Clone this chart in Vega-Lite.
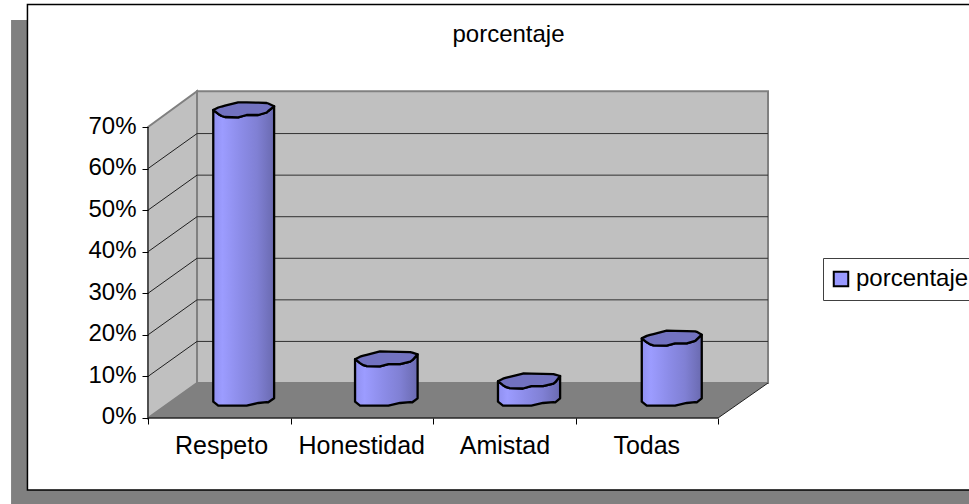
{"$schema":"https://vega.github.io/schema/vega-lite/v6.json","width":969,"height":504,"padding":0,"autosize":"none","background":"white",
"title":{"text":"porcentaje","font":"Liberation Sans","fontSize":24,"fontWeight":"normal","color":"black","anchor":"middle","dx":24,"offset":-47},
"config":{"view":{"stroke":null},"font":"Liberation Sans"},
"datasets":{
"body":[
{"b":"Respeto","x":0.458,"y":74.09,"y2":3.92},{"b":"Respeto","x":0.493,"y":73.14,"y2":2.96},{"b":"Respeto","x":0.517,"y":72.65,"y2":2.96},{"b":"Respeto","x":0.54,"y":72.41,"y2":2.96},{"b":"Respeto","x":0.633,"y":72.34,"y2":2.96},{"b":"Respeto","x":0.692,"y":72.89,"y2":2.96},{"b":"Respeto","x":0.774,"y":72.89,"y2":3.61},{"b":"Respeto","x":0.833,"y":73.49,"y2":3.8},{"b":"Respeto","x":0.844,"y":73.85,"y2":3.78},{"b":"Respeto","x":0.885,"y":74.98,"y2":4.74},
{"b":"Honestidad","x":1.453,"y":14.15,"y2":3.92},{"b":"Honestidad","x":1.488,"y":13.2,"y2":2.96},{"b":"Honestidad","x":1.512,"y":12.71,"y2":2.96},{"b":"Honestidad","x":1.535,"y":12.47,"y2":2.96},{"b":"Honestidad","x":1.628,"y":12.4,"y2":2.96},{"b":"Honestidad","x":1.687,"y":12.95,"y2":2.96},{"b":"Honestidad","x":1.769,"y":12.95,"y2":3.61},{"b":"Honestidad","x":1.84,"y":13.55,"y2":3.8},{"b":"Honestidad","x":1.855,"y":13.91,"y2":3.78},{"b":"Honestidad","x":1.892,"y":15.3,"y2":4.74},
{"b":"Amistad","x":2.456,"y":8.85,"y2":3.92},{"b":"Amistad","x":2.491,"y":7.9,"y2":2.96},{"b":"Amistad","x":2.515,"y":7.41,"y2":2.96},{"b":"Amistad","x":2.538,"y":7.17,"y2":2.96},{"b":"Amistad","x":2.631,"y":7.1,"y2":2.96},{"b":"Amistad","x":2.69,"y":7.65,"y2":2.96},{"b":"Amistad","x":2.772,"y":7.65,"y2":3.61},{"b":"Amistad","x":2.845,"y":8.25,"y2":3.8},{"b":"Amistad","x":2.858,"y":8.61,"y2":3.78},{"b":"Amistad","x":2.892,"y":10.1,"y2":4.74},
{"b":"Todas","x":3.465,"y":19.15,"y2":3.92},{"b":"Todas","x":3.5,"y":18.2,"y2":2.96},{"b":"Todas","x":3.524,"y":17.71,"y2":2.96},{"b":"Todas","x":3.547,"y":17.47,"y2":2.96},{"b":"Todas","x":3.64,"y":17.4,"y2":2.96},{"b":"Todas","x":3.699,"y":17.95,"y2":2.96},{"b":"Todas","x":3.781,"y":17.95,"y2":3.61},{"b":"Todas","x":3.84,"y":18.55,"y2":3.8},{"b":"Todas","x":3.851,"y":18.91,"y2":3.78},{"b":"Todas","x":3.886,"y":20.04,"y2":4.74}
],
"tops":[
{"b":"Respeto","x":0.458,"y":74.09,"y2":74.09},{"b":"Respeto","x":0.493,"y":74.69,"y2":73.14},{"b":"Respeto","x":0.517,"y":74.93,"y2":72.65},{"b":"Respeto","x":0.54,"y":75.13,"y2":72.41},{"b":"Respeto","x":0.633,"y":75.94,"y2":72.34},{"b":"Respeto","x":0.692,"y":75.92,"y2":72.89},{"b":"Respeto","x":0.774,"y":75.85,"y2":72.89},{"b":"Respeto","x":0.833,"y":75.78,"y2":73.49},{"b":"Respeto","x":0.844,"y":75.66,"y2":73.85},{"b":"Respeto","x":0.885,"y":74.98,"y2":74.98},
{"b":"Honestidad","x":1.453,"y":14.15,"y2":14.15},{"b":"Honestidad","x":1.488,"y":14.75,"y2":13.2},{"b":"Honestidad","x":1.512,"y":14.99,"y2":12.71},{"b":"Honestidad","x":1.535,"y":15.19,"y2":12.47},{"b":"Honestidad","x":1.628,"y":16.0,"y2":12.4},{"b":"Honestidad","x":1.687,"y":15.98,"y2":12.95},{"b":"Honestidad","x":1.769,"y":15.91,"y2":12.95},{"b":"Honestidad","x":1.84,"y":15.84,"y2":13.55},{"b":"Honestidad","x":1.855,"y":15.72,"y2":13.91},{"b":"Honestidad","x":1.892,"y":15.3,"y2":15.3},
{"b":"Amistad","x":2.456,"y":8.85,"y2":8.85},{"b":"Amistad","x":2.491,"y":9.45,"y2":7.9},{"b":"Amistad","x":2.515,"y":9.69,"y2":7.41},{"b":"Amistad","x":2.538,"y":9.89,"y2":7.17},{"b":"Amistad","x":2.631,"y":10.7,"y2":7.1},{"b":"Amistad","x":2.69,"y":10.68,"y2":7.65},{"b":"Amistad","x":2.772,"y":10.61,"y2":7.65},{"b":"Amistad","x":2.845,"y":10.54,"y2":8.25},{"b":"Amistad","x":2.858,"y":10.42,"y2":8.61},{"b":"Amistad","x":2.892,"y":10.1,"y2":10.1},
{"b":"Todas","x":3.465,"y":19.15,"y2":19.15},{"b":"Todas","x":3.5,"y":19.75,"y2":18.2},{"b":"Todas","x":3.524,"y":19.99,"y2":17.71},{"b":"Todas","x":3.547,"y":20.19,"y2":17.47},{"b":"Todas","x":3.64,"y":21.0,"y2":17.4},{"b":"Todas","x":3.699,"y":20.98,"y2":17.95},{"b":"Todas","x":3.781,"y":20.91,"y2":17.95},{"b":"Todas","x":3.84,"y":20.84,"y2":18.55},{"b":"Todas","x":3.851,"y":20.72,"y2":18.91},{"b":"Todas","x":3.886,"y":20.04,"y2":20.04}
]},
"encoding":{
"x":{"field":"x","type":"quantitative","title":null,"scale":{"domain":[-1.0386,5.7614],"nice":false,"zero":false},"axis":{"values":[0,1,2,3,4],"labels":false,"domain":false,"grid":false,"tickSize":6,"tickColor":"black","offset":-86,"zindex":1,"title":null}},
"y":{"field":"y","type":"quantitative","title":null,"scale":{"domain":[-20.688,100.553],"nice":false,"zero":false},"axis":{"values":[0,10,20,30,40,50,60,70],"labelExpr":"datum.value+'%'","labelFont":"Liberation Sans","labelFontSize":24,"labelColor":"black","labelPadding":6,"labelOffset":-1,"domain":false,"grid":false,"tickSize":6,"tickColor":"black","offset":-148,"zindex":1,"title":null}}
},
"layer":[
{"data":{"values":[{"x":-0.961,"x2":6,"y":95.74,"y2":-20.69}]},"mark":{"type":"rect","fill":"#808080"},"encoding":{"x2":{"field":"x2"},"y2":{"field":"y2"}}},
{"data":{"values":[{"x":-0.846,"x2":6,"y":99.47,"y2":-17.32}]},"mark":{"type":"rect","fill":"white","stroke":"black","strokeWidth":1.5},"encoding":{"x2":{"field":"x2"},"y2":{"field":"y2"}}},
{"data":{"values":[{"x":0,"y":70,"y2":0},{"x":0.344,"y":78.6,"y2":8.42}]},"mark":{"type":"area","fill":"#c0c0c0","stroke":"#808080","strokeWidth":2},"encoding":{"y2":{"field":"y2"}}},
{"data":{"values":[{"x":0.344,"x2":4.351,"y":78.6,"y2":8.42}]},"mark":{"type":"rect","fill":"#c0c0c0","stroke":"#808080","strokeWidth":2},"encoding":{"x2":{"field":"x2"},"y2":{"field":"y2"}}},
{"data":{"values":[{"x":0,"y":0,"y2":0},{"x":0.344,"y":8.42,"y2":0},{"x":4,"y":8.42,"y2":0},{"x":4.351,"y":8.42,"y2":8.42}]},"mark":{"type":"area","fill":"#808080"},"encoding":{"y2":{"field":"y2"}}},
{"data":{"values":[{"x":0.344,"x2":4.351,"y":18.42},{"x":0.344,"x2":4.351,"y":28.42},{"x":0.344,"x2":4.351,"y":38.42},{"x":0.344,"x2":4.351,"y":48.42},{"x":0.344,"x2":4.351,"y":58.42},{"x":0.344,"x2":4.351,"y":68.42},{"x":0,"x2":4,"y":0}]},"mark":{"type":"rule","color":"#303030","strokeWidth":1},"encoding":{"x2":{"field":"x2"}}},
{"data":{"values":[{"x":0,"y":70,"y2":0}]},"mark":{"type":"rule","color":"#202020","strokeWidth":1},"encoding":{"y2":{"field":"y2"}}},
{"data":{"values":[{"g":10,"x":0,"y":10},{"g":10,"x":0.344,"y":18.42},{"g":20,"x":0,"y":20},{"g":20,"x":0.344,"y":28.42},{"g":30,"x":0,"y":30},{"g":30,"x":0.344,"y":38.42},{"g":40,"x":0,"y":40},{"g":40,"x":0.344,"y":48.42},{"g":50,"x":0,"y":50},{"g":50,"x":0.344,"y":58.42},{"g":60,"x":0,"y":60},{"g":60,"x":0.344,"y":68.42}]},"mark":{"type":"line","color":"#202020","strokeWidth":1},"encoding":{"detail":{"field":"g"}}},
{"data":{"values":[{"x":0,"y":0},{"x":4,"y":0},{"x":4.351,"y":8.42}]},"mark":{"type":"line","color":"#202020","strokeWidth":1}},
{"data":{"name":"body"},"mark":{"type":"area","stroke":"black","strokeWidth":2.3,"strokeJoin":"round","fill":{"gradient":"linear","x1":0,"y1":0,"x2":1,"y2":0,"stops":[{"offset":0,"color":"#9090f0"},{"offset":0.15,"color":"#9c9cff"},{"offset":0.45,"color":"#8c8ce8"},{"offset":0.72,"color":"#8080d4"},{"offset":1,"color":"#6a6ab0"}]}},"encoding":{"y2":{"field":"y2"},"detail":{"field":"b"}}},
{"data":{"name":"tops"},"mark":{"type":"area","stroke":"black","strokeWidth":2.3,"strokeJoin":"round","fill":"#7272c0"},"encoding":{"y2":{"field":"y2"},"detail":{"field":"b"}}},
{"data":{"values":[{"categoria":"Respeto","x":0.516,"y":-6.7},{"categoria":"Honestidad","x":1.5,"y":-6.7},{"categoria":"Amistad","x":2.505,"y":-6.7},{"categoria":"Todas","x":3.5,"y":-6.7}]},"mark":{"type":"text","font":"Liberation Sans","fontSize":25,"color":"black","align":"center","baseline":"middle"},"encoding":{"text":{"field":"categoria"}}},
{"data":{"values":[{"x":0,"y":0,"serie":"porcentaje"}]},"mark":{"type":"point","size":0,"filled":true},"encoding":{"color":{"field":"serie","type":"nominal","scale":{"range":["#9999ff"]},"legend":{"orient":"none","legendX":823,"legendY":258,"title":null,"symbolType":"square","symbolSize":210,"symbolOffset":-3,"symbolStrokeColor":"black","symbolStrokeWidth":2,"symbolFillColor":"#9999ff","symbolOpacity":1,"labelFont":"Liberation Sans","labelFontSize":24,"labelColor":"black","labelOffset":3,"strokeColor":"#404040","fillColor":"white","padding":9,"labelLimit":300}}}}
]}
